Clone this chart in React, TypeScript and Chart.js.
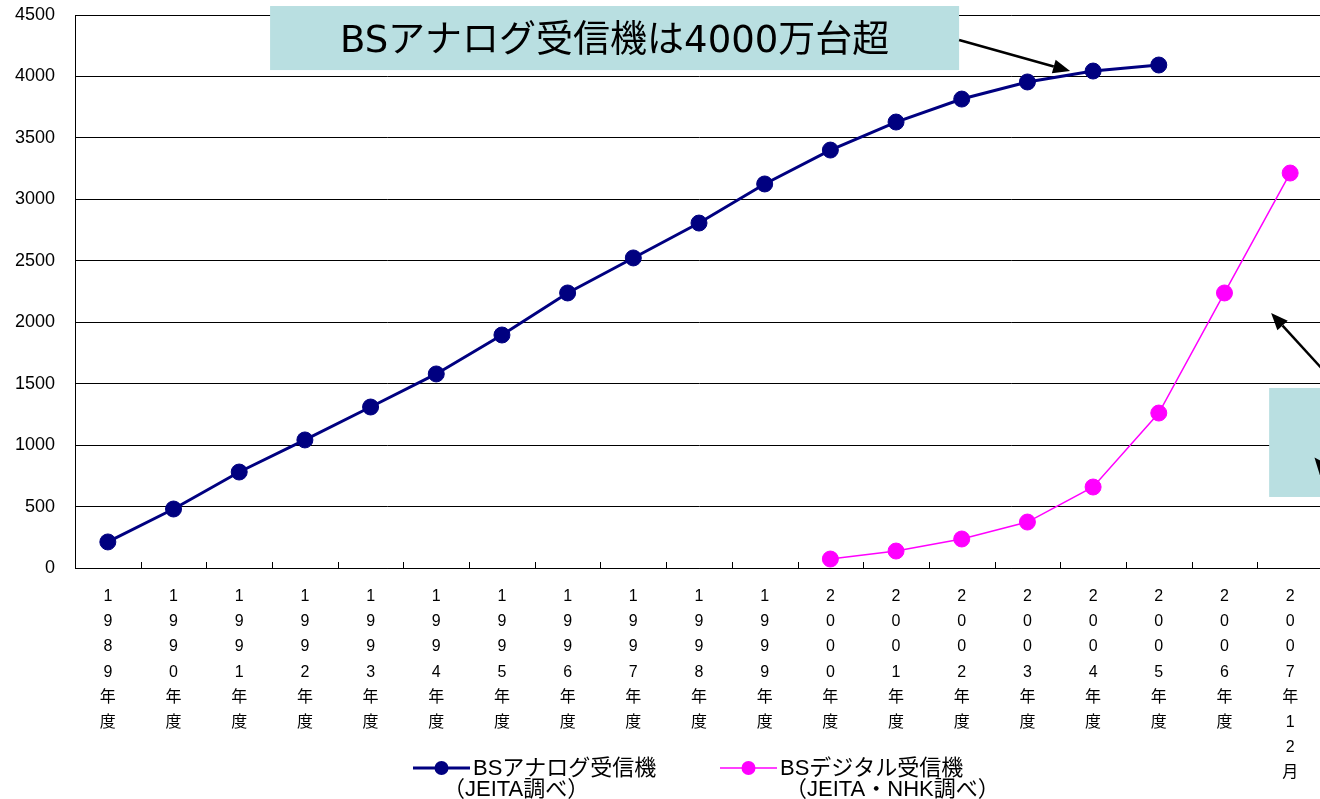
import { useEffect, useRef } from "react";
import { Chart, registerables } from "chart.js";

Chart.register(...registerables);

// ---- data ----
const categories = [
  "1989年度", "1990年度", "1991年度", "1992年度", "1993年度", "1994年度",
  "1995年度", "1996年度", "1997年度", "1998年度", "1999年度", "2000年度",
  "2001年度", "2002年度", "2003年度", "2004年度", "2005年度", "2006年度",
  "2007年12月",
];

const analogLabel = "BSアナログ受信機";
const analogSource = "（JEITA調べ）";
const analogValues = [
  212, 480, 781, 1042, 1310, 1579, 1896, 2238, 2523, 2807, 3125, 3401,
  3629, 3816, 3955, 4044, 4093, null, null,
];

const digitalLabel = "BSデジタル受信機";
const digitalSource = "（JEITA・NHK調べ）";
const digitalValues = [
  null, null, null, null, null, null, null, null, null, null, null, 73,
  138, 236, 374, 659, 1261, 2238, 3214,
];

const yMin = 0;
const yMax = 4500;
const yStep = 500;

const calloutText = "BSアナログ受信機は4000万台超";
// callout boxes / arrows in data units (category index, value)
const calloutBox = { x0: 2.47, x1: 12.96, y0: 4573, y1: 4052 };
const calloutArrow = { fromX: 12.96, fromY: 4297, toX: 14.65, toY: 4044 };
const sideBox = { x0: 17.68, x1: 18.7, y0: 1465, y1: 578 };
const sideArrow = { fromX: 18.53, fromY: 1595, toX: 17.71, toY: 2075 };
const sideArrow2 = { fromX: 18.8, fromY: 620, toX: 18.37, toY: 900 };

const NAVY = "#000080";
const MAGENTA = "#FF00FF";
const BOX = "#B9DFE1";

const FONT = "'Liberation Sans', 'Noto Sans CJK JP', sans-serif";

function drawArrow(ctx: CanvasRenderingContext2D, x1: number, y1: number, x2: number, y2: number) {
  const ang = Math.atan2(y2 - y1, x2 - x1);
  const headLen = 17;
  const headW = 7;
  const bx = x2 - headLen * Math.cos(ang);
  const by = y2 - headLen * Math.sin(ang);
  ctx.save();
  ctx.strokeStyle = "#000";
  ctx.fillStyle = "#000";
  ctx.lineWidth = 2.5;
  ctx.beginPath();
  ctx.moveTo(x1, y1);
  ctx.lineTo(bx, by);
  ctx.stroke();
  ctx.beginPath();
  ctx.moveTo(x2, y2);
  ctx.lineTo(bx + headW * Math.sin(ang), by - headW * Math.cos(ang));
  ctx.lineTo(bx - headW * Math.sin(ang), by + headW * Math.cos(ang));
  ctx.closePath();
  ctx.fill();
  ctx.restore();
}

const overlayPlugin = {
  id: "overlay",
  afterDraw(chart: any) {
    const ctx: CanvasRenderingContext2D = chart.ctx;
    const xs = chart.scales.x;
    const ys = chart.scales.y;
    const area = chart.chartArea;

    // inward tick marks on the category axis at category boundaries
    const step = xs.getPixelForValue(1) - xs.getPixelForValue(0);
    ctx.save();
    ctx.strokeStyle = "#000";
    ctx.lineWidth = 1;
    for (let i = 0; i <= categories.length; i++) {
      const px = Math.round(xs.getPixelForValue(i) - step / 2) + 0.5;
      ctx.beginPath();
      ctx.moveTo(px, area.bottom);
      ctx.lineTo(px, area.bottom - 6);
      ctx.stroke();
    }
    ctx.restore();

    // callout box
    const bx0 = xs.getPixelForValue(calloutBox.x0);
    const bx1 = xs.getPixelForValue(calloutBox.x1);
    const by0 = ys.getPixelForValue(calloutBox.y0);
    const by1 = ys.getPixelForValue(calloutBox.y1);
    ctx.save();
    ctx.fillStyle = BOX;
    ctx.fillRect(bx0, by0, bx1 - bx0, by1 - by0);
    ctx.fillStyle = "#000";
    ctx.font = "37px 'DejaVu Sans', 'Noto Sans CJK JP', sans-serif";
    ctx.textAlign = "center";
    ctx.textBaseline = "middle";
    ctx.fillText(calloutText, (bx0 + bx1) / 2, (by0 + by1) / 2 + 4);
    ctx.restore();
    drawArrow(
      ctx,
      xs.getPixelForValue(calloutArrow.fromX), ys.getPixelForValue(calloutArrow.fromY),
      xs.getPixelForValue(calloutArrow.toX), ys.getPixelForValue(calloutArrow.toY)
    );

    // side box (cut off at right edge)
    const sx0 = xs.getPixelForValue(sideBox.x0);
    const sx1 = xs.getPixelForValue(sideBox.x1);
    const sy0 = ys.getPixelForValue(sideBox.y0);
    const sy1 = ys.getPixelForValue(sideBox.y1);
    ctx.save();
    ctx.fillStyle = BOX;
    ctx.fillRect(sx0, sy0, sx1 - sx0, sy1 - sy0);
    ctx.restore();
    drawArrow(
      ctx,
      xs.getPixelForValue(sideArrow.fromX), ys.getPixelForValue(sideArrow.fromY),
      xs.getPixelForValue(sideArrow.toX), ys.getPixelForValue(sideArrow.toY)
    );
    drawArrow(
      ctx,
      xs.getPixelForValue(sideArrow2.fromX), ys.getPixelForValue(sideArrow2.fromY),
      xs.getPixelForValue(sideArrow2.toX), ys.getPixelForValue(sideArrow2.toY)
    );

    // legend
    const items = [
      { ds: chart.data.datasets[0], lines: [analogLabel, analogSource], lx: 413, l2x: 443 },
      { ds: chart.data.datasets[1], lines: [digitalLabel, digitalSource], lx: 720, l2x: 785 },
    ];
    const ly = 768;
    items.forEach((it) => {
      ctx.save();
      ctx.strokeStyle = it.ds.borderColor;
      ctx.lineWidth = it.ds.borderWidth;
      ctx.beginPath();
      ctx.moveTo(it.lx, ly);
      ctx.lineTo(it.lx + 57, ly);
      ctx.stroke();
      ctx.fillStyle = it.ds.pointBackgroundColor;
      ctx.beginPath();
      ctx.arc(it.lx + 28.5, ly, 7, 0, Math.PI * 2);
      ctx.fill();
      ctx.fillStyle = "#000";
      ctx.font = `22px ${FONT}`;
      ctx.textAlign = "left";
      ctx.textBaseline = "middle";
      ctx.fillText(it.lines[0], it.lx + 60, ly + 1);
      ctx.fillText(it.lines[1], it.l2x, ly + 22);
      ctx.restore();
    });
  },
};

export default function App() {
  const canvasRef = useRef<HTMLCanvasElement | null>(null);

  useEffect(() => {
    const canvas = canvasRef.current;
    if (!canvas) return;
    const chart = new Chart(canvas, {
      type: "line",
      data: {
        labels: categories.map((c) => Array.from(c)),
        datasets: [
          {
            label: analogLabel,
            data: analogValues,
            borderColor: NAVY,
            backgroundColor: NAVY,
            pointBackgroundColor: NAVY,
            pointBorderColor: NAVY,
            borderWidth: 3,
            pointRadius: 8,
            pointBorderWidth: 1,
            tension: 0,
            spanGaps: false,
          },
          {
            label: digitalLabel,
            data: digitalValues,
            borderColor: MAGENTA,
            backgroundColor: MAGENTA,
            pointBackgroundColor: MAGENTA,
            pointBorderColor: MAGENTA,
            borderWidth: 1.5,
            pointRadius: 8,
            pointBorderWidth: 1,
            tension: 0,
            spanGaps: false,
          },
        ],
      },
      options: {
        animation: false,
        responsive: false,
        maintainAspectRatio: false,
        devicePixelRatio: 1,
        layout: { padding: 0 },
        plugins: {
          legend: { display: false },
          tooltip: { enabled: false },
          title: { display: false },
        },
        scales: {
          x: {
            type: "category",
            offset: true,
            grid: { display: false, drawTicks: false },
            border: { display: true, color: "#000", width: 1 },
            ticks: {
              color: "#000",
              padding: 16,
              maxRotation: 0,
              minRotation: 0,
              autoSkip: false,
              font: { family: FONT, size: 16, lineHeight: "25.2px" },
            },
            afterFit: (scale: any) => {
              scale.height = 231;
              scale.paddingLeft = 0;
              scale.paddingRight = 0;
            },
          },
          y: {
            min: yMin,
            max: yMax,
            grid: { color: "#000", lineWidth: 1, drawTicks: false },
            border: { display: true, color: "#000", width: 1 },
            ticks: {
              stepSize: yStep,
              color: "#000",
              padding: 20,
              font: { family: FONT, size: 18 },
              callback: (v: any) => String(v),
            },
            afterFit: (scale: any) => {
              scale.width = 75;
              scale.paddingTop = 15;
              scale.paddingBottom = 0;
            },
          },
        },
      },
      plugins: [overlayPlugin],
    });
    return () => chart.destroy();
  }, []);

  return (
    <div
      style={{
        position: "fixed",
        left: 0,
        top: 0,
        width: 1320,
        height: 799,
        overflow: "hidden",
        background: "#fff",
      }}
    >
      <canvas ref={canvasRef} width={1332} height={799} style={{ display: "block" }} />
    </div>
  );
}
